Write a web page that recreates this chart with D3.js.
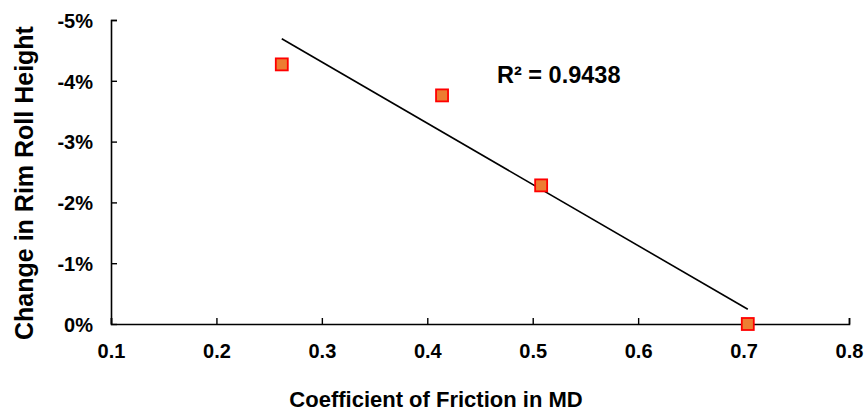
<!DOCTYPE html>
<html>
<head>
<meta charset="utf-8">
<script src="https://cdn.jsdelivr.net/npm/d3@7"></script>
<style>
  body { margin: 0; background: #fff; }
  text { font-family: "Liberation Sans", Arial, sans-serif; font-weight: bold; fill: #000; }
</style>
</head>
<body>
<div id="chart-area"></div>
<script>
// friction coefficient (MD) vs change in rim roll height
var friction = [0.262, 0.414, 0.508, 0.704];
var rimChange = [-0.0427, -0.0376, -0.0228, 0.0];
var xTicks = [0.1, 0.2, 0.3, 0.4, 0.5, 0.6, 0.7, 0.8];
var yTicks = [0, -0.01, -0.02, -0.03, -0.04, -0.05];
var r2Label = "R\u00b2 = 0.9438";

var margin = { top: 20, right: 16, bottom: 88, left: 111 };
var width = 865 - margin.left - margin.right;
var height = 412 - margin.top - margin.bottom;

var svg = d3.select("#chart-area").append("svg")
    .attr("width", 865)
    .attr("height", 412)
    .append("g")
    .attr("transform", "translate(" + margin.left + "," + margin.top + ")");

var x = d3.scaleLinear().domain([0.1, 0.8]).range([0, 738]);
var y = d3.scaleLinear().domain([0, -0.05]).range([height, 0]);

var pct = function (d) { return Math.round(d * 100) + "%"; };

// axes, ticks pointing inward
var xAxis = svg.append("g")
    .attr("transform", "translate(0," + height + ")")
    .call(d3.axisBottom(x).tickValues(xTicks).tickSize(-6).tickFormat(d3.format(".1f")));
xAxis.selectAll("text").attr("y", 34).attr("dy", 0).style("font-size", "20px");

var yAxis = svg.append("g")
    .call(d3.axisLeft(y).tickValues(yTicks).tickSize(-6).tickFormat(pct));
yAxis.selectAll("text").attr("x", -18).attr("dy", "0.36em").style("font-size", "20px");

svg.selectAll(".domain").attr("stroke", "#000").attr("stroke-width", 1.6)
    .attr("d", function () {
        return this.parentNode === xAxis.node()
            ? "M0.5,-6V0.5H738.5V-6" : "M6,0.5H0.5V" + (height + 0.5);
    });
svg.selectAll(".tick line").attr("stroke", "#000").attr("stroke-width", 1.4);

// linear trendline (least squares)
var mx = d3.mean(friction), my = d3.mean(rimChange);
var sxy = d3.sum(friction, function (d, i) { return (d - mx) * (rimChange[i] - my); });
var sxx = d3.sum(friction, function (d) { return (d - mx) * (d - mx); });
var slope = sxy / sxx, intercept = my - slope * mx;
var ends = d3.extent(friction);

svg.append("path")
    .datum(ends)
    .attr("fill", "none")
    .attr("stroke", "#000")
    .attr("stroke-width", 1.6)
    .attr("d", d3.line()
        .x(function (d) { return x(d); })
        .y(function (d) { return y(intercept + slope * d); }));

// data markers
var pts = friction.map(function (d, i) { return { fx: d, rc: rimChange[i] }; });
svg.selectAll(".pt").data(pts).enter().append("rect")
    .attr("class", "pt")
    .attr("x", function (d) { return x(d.fx) - 6; })
    .attr("y", function (d) { return y(d.rc) - 6; })
    .attr("width", 12)
    .attr("height", 12)
    .attr("fill", "#ED7D31")
    .attr("stroke", "#FF0000")
    .attr("stroke-width", 1.8);

svg.append("text")
    .attr("x", 386)
    .attr("y", 63)
    .style("font-size", "23.5px")
    .text(r2Label);

// axis titles
svg.append("text")
    .attr("x", 325)
    .attr("y", height + 83)
    .style("text-anchor", "middle")
    .style("font-size", "22px")
    .text("Coefficient of Friction in MD");

svg.append("text")
    .attr("transform", "rotate(-90)")
    .attr("x", -163)
    .attr("y", -78)
    .style("text-anchor", "middle")
    .style("font-size", "25px")
    .text("Change in Rim Roll Height");
</script>
</body>
</html>
